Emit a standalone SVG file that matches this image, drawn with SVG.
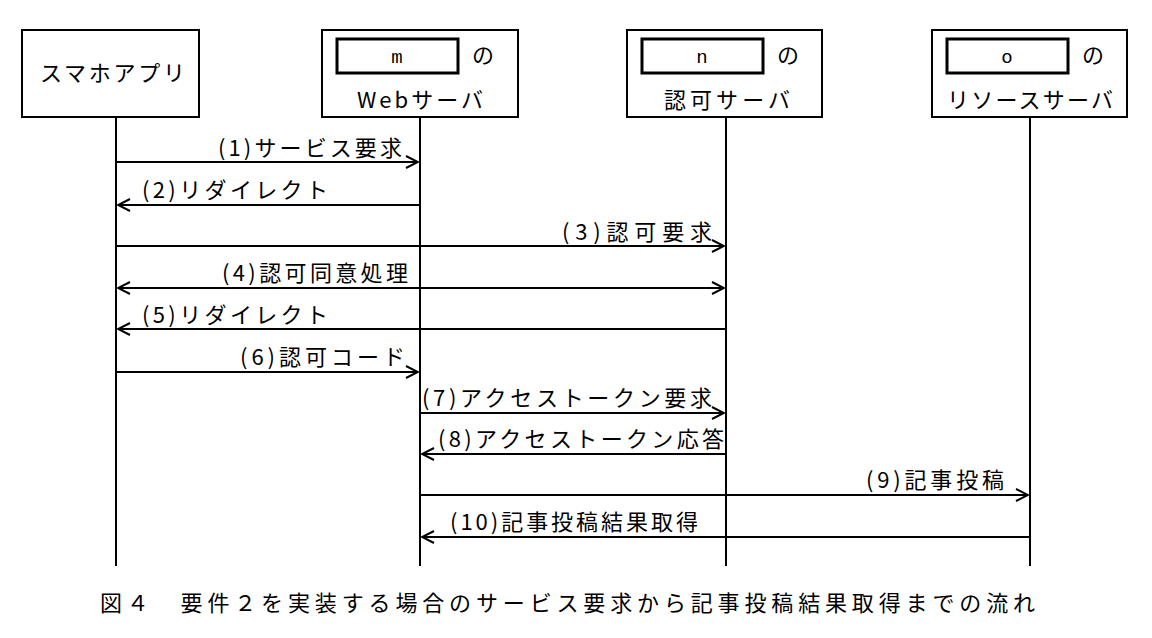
<svg xmlns="http://www.w3.org/2000/svg" width="1152" height="638" viewBox="0 0 1152 638">
<style>
.b{fill:#fff;stroke:#000;stroke-width:2}
.ib{fill:#fff;stroke:#000;stroke-width:3}
.t{font-family:"Noto Sans CJK JP","Liberation Sans",sans-serif;font-size:22px;fill:#000}
.m{font-family:"Liberation Mono",monospace;font-size:19px;fill:#000}
.l{stroke:#000;stroke-width:2;fill:none}
</style>
<defs><marker id="a" markerWidth="14" markerHeight="14" refX="13" refY="7" orient="auto-start-reverse" markerUnits="userSpaceOnUse"><path d="M1,1 L13,7 L1,13" fill="none" stroke="#000" stroke-width="2"/></marker></defs>
<rect width="1152" height="638" fill="#fff"/>
<g id="lifelines">
<line class="l" x1="116" y1="117" x2="116" y2="566"/>
<line class="l" x1="420" y1="117" x2="420" y2="566"/>
<line class="l" x1="726" y1="117" x2="726" y2="566"/>
<line class="l" x1="1030" y1="117" x2="1030" y2="566"/>
</g>
<g id="n1"><rect class="b" x="22" y="30" width="177" height="87"/><text class="t" x="40" y="81" textLength="145" lengthAdjust="spacing">スマホアプリ</text></g>
<g id="n2"><rect class="b" x="322" y="30" width="196" height="87"/><rect class="ib" x="337" y="39" width="121" height="34"/><text class="m" x="397" y="63" text-anchor="middle">m</text><text class="t" x="483" y="63" text-anchor="middle">の</text><text class="t" x="357" y="108" textLength="126" lengthAdjust="spacing">Webサーバ</text></g>
<g id="n3"><rect class="b" x="627" y="30" width="195" height="87"/><rect class="ib" x="642" y="39" width="121" height="34"/><text class="m" x="702" y="63" text-anchor="middle">n</text><text class="t" x="788" y="63" text-anchor="middle">の</text><text class="t" x="664" y="108" textLength="126" lengthAdjust="spacing">認可サーバ</text></g>
<g id="n4"><rect class="b" x="932" y="30" width="195" height="87"/><rect class="ib" x="947" y="39" width="121" height="34"/><text class="m" x="1007" y="63" text-anchor="middle">o</text><text class="t" x="1093" y="63" text-anchor="middle">の</text><text class="t" x="947" y="108" textLength="166" lengthAdjust="spacing">リソースサーバ</text></g>
<g id="connectors">
<line class="l" x1="116" y1="162" x2="418" y2="162" marker-end="url(#a)"/>
<line class="l" x1="420" y1="205" x2="118" y2="205" marker-end="url(#a)"/>
<line class="l" x1="116" y1="246" x2="724" y2="246" marker-end="url(#a)"/>
<line class="l" x1="118" y1="288" x2="724" y2="288" marker-start="url(#a)" marker-end="url(#a)"/>
<line class="l" x1="726" y1="329" x2="118" y2="329" marker-end="url(#a)"/>
<line class="l" x1="116" y1="372" x2="418" y2="372" marker-end="url(#a)"/>
<line class="l" x1="420" y1="413" x2="724" y2="413" marker-end="url(#a)"/>
<line class="l" x1="726" y1="454" x2="422" y2="454" marker-end="url(#a)"/>
<line class="l" x1="420" y1="495" x2="1028" y2="495" marker-end="url(#a)"/>
<line class="l" x1="1030" y1="537" x2="422" y2="537" marker-end="url(#a)"/>
</g>
<g id="labels">
<text class="t" x="218" y="156" textLength="184" lengthAdjust="spacing">(1)サービス要求</text>
<text class="t" x="142" y="198" textLength="186" lengthAdjust="spacing">(2)リダイレクト</text>
<text class="t" x="562" y="240" textLength="150" lengthAdjust="spacing">(3)認可要求</text>
<text class="t" x="222" y="281" textLength="186" lengthAdjust="spacing">(4)認可同意処理</text>
<text class="t" x="142" y="323" textLength="186" lengthAdjust="spacing">(5)リダイレクト</text>
<text class="t" x="240" y="365" textLength="165" lengthAdjust="spacing">(6)認可コード</text>
<text class="t" x="422" y="406" textLength="290" lengthAdjust="spacing">(7)アクセストークン要求</text>
<text class="t" x="438" y="447" textLength="286" lengthAdjust="spacing">(8)アクセストークン応答</text>
<text class="t" x="866" y="488" textLength="138" lengthAdjust="spacing">(9)記事投稿</text>
<text class="t" x="450" y="530" textLength="248" lengthAdjust="spacing">(10)記事投稿結果取得</text>
</g>
<text class="t" x="100" y="611" textLength="935" lengthAdjust="spacing">図４　要件２を実装する場合のサービス要求から記事投稿結果取得までの流れ</text>
</svg>
